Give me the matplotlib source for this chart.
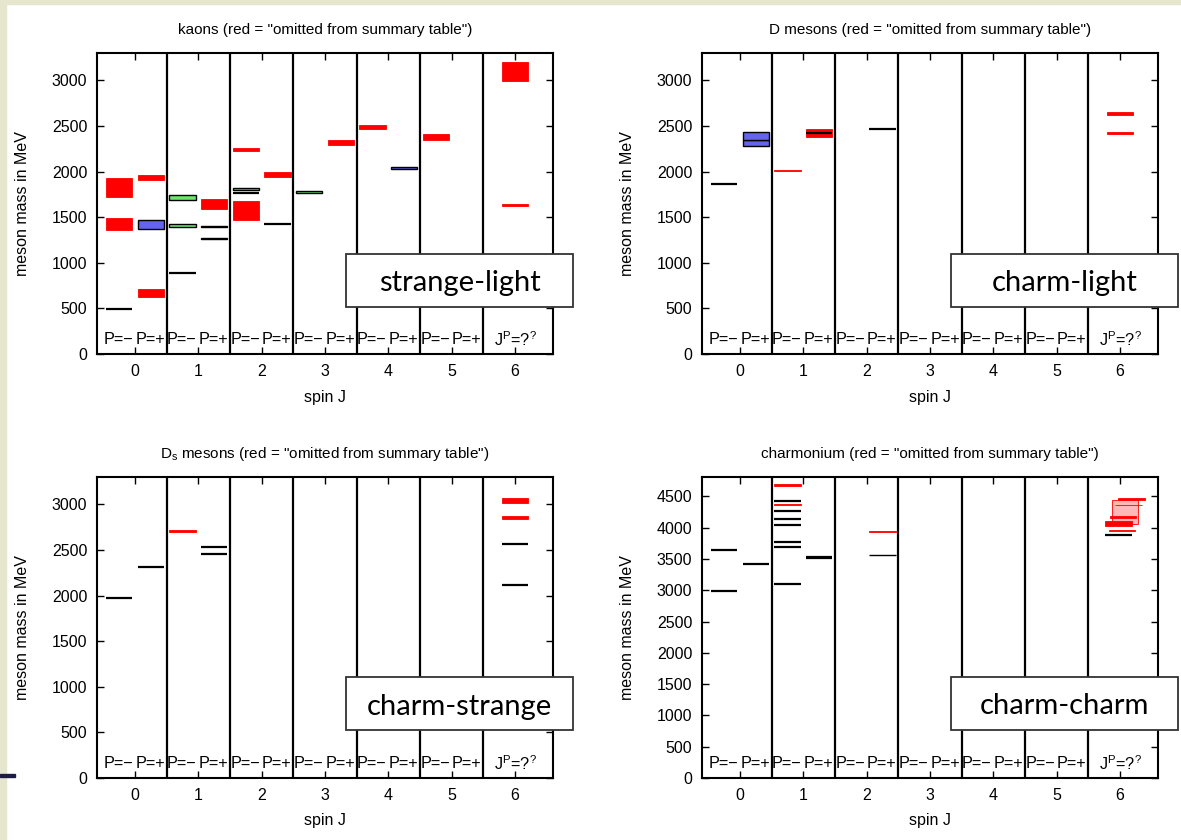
import matplotlib
matplotlib.use("Agg")
import matplotlib.pyplot as plt
from matplotlib.patches import Rectangle

plt.rcParams["font.family"] = ["Liberation Sans", "DejaVu Sans"]
plt.rcParams["mathtext.fontset"] = "custom"
plt.rcParams["mathtext.rm"] = "Liberation Sans"
plt.rcParams["mathtext.it"] = "Liberation Sans:italic"

# --- data: spin J, parity (-1, +1, 0 = unknown), mass range in MeV, colour code
KAON_J = [0, 0, 0, 0, 0, 0, 1, 1, 1, 1, 1, 1, 2, 2, 2, 2, 2, 2, 3, 3, 4, 4, 5, 6, 6]
KAON_P = [-1, -1, -1, 1, 1, 1, -1, -1, -1, 1, 1, 1, -1, -1, -1, -1, 1, 1, -1, 1, -1, 1, -1, 0, 0]
KAON_LO = [494, 1363, 1722, 623, 1370, 1912, 892, 1390, 1684, 1261, 1393, 1590,
           1472, 1770, 1795, 2223, 1428, 1937, 1768, 2293, 2462, 2030, 2351, 2992, 1618]
KAON_HI = [494, 1491, 1931, 711, 1473, 1967, 892, 1428, 1744, 1273, 1405, 1700,
           1680, 1770, 1825, 2260, 1428, 1995, 1782, 2351, 2513, 2055, 2407, 3201, 1643]
KAON_C = ["k", "r", "r", "r", "b", "r", "k", "g", "g", "b", "b", "r",
          "r", "k", "g", "r", "k", "r", "g", "r", "r", "b", "r", "r", "r"]

D_J = [0, 0, 0, 1, 1, 1, 2, 6, 6]
D_P = [-1, 1, 1, -1, 1, 1, 1, 0, 0]
D_LO = [1868, 2275, 2345, 2002, 2380, 2418, 2462, 2620, 2407]
D_HI = [1868, 2345, 2436, 2012, 2468, 2418, 2462, 2648, 2435]
D_C = ["k", "b", "b", "r", "r", "k", "k", "r", "r"]

DS_J = [0, 0, 1, 1, 1, 6, 6, 6, 6]
DS_P = [-1, 1, -1, 1, 1, 0, 0, 0, 0]
DS_LO = [1968, 2317, 2695, 2459, 2536, 2113, 2569, 2845, 3012]
DS_HI = [1968, 2317, 2722, 2459, 2536, 2113, 2569, 2872, 3073]
DS_C = ["k", "k", "r", "k", "k", "k", "k", "r", "r"]

CC_J = [0, 0, 0, 1, 1, 1, 1, 1, 1, 1, 1, 1, 1, 1, 2, 2, 6, 6, 6, 6, 6, 6, 6]
CC_P = [-1, -1, 1, -1, -1, -1, -1, -1, -1, -1, -1, -1, 1, 1, 1, 1, 0, 0, 0, 0, 0, 0, 0]
CC_LO = [2984, 3640, 3418, 3100, 3690, 3776, 4045, 4145, 4268, 4425, 4355, 4660,
         3511, 3527, 3556, 3928, 4445, 4358, 4060, 4150, 4020, 3940, 3880]
CC_HI = [2984, 3640, 3418, 3100, 3690, 3776, 4045, 4145, 4268, 4425, 4385, 4692,
         3511, 3527, 3570, 3955, 4472, 4366, 4447, 4190, 4100, 3962, 3880]
CC_C = ["k", "k", "k", "k", "k", "k", "k", "k", "k", "k", "r", "r",
        "k", "k", "b", "r", "r", "r", "p", "r", "r", "r", "k"]
# stagger of the unassigned (J^P = ??) charmonium-like states
CC_DX = [0] * 16 + [0.18, 0.13, 0.08, 0.05, -0.02, 0.03, -0.02]

TITLES = ['kaons (red = "omitted from summary table")',
          'D mesons (red = "omitted from summary table")',
          r'D$_\mathrm{s}$ mesons (red = "omitted from summary table")',
          'charmonium (red = "omitted from summary table")']
TAGS = ["strange-light", "charm-light", "charm-strange", "charm-charm"]
SPINS = [0, 1, 2, 3, 4, 5, 6]

W, H = 1181, 840
FILL = {"r": "#ff0000", "b": "#6464f0", "g": "#6ee66e", "p": (1, 0, 0, 0.28)}
EDGE = {"r": "#ff0000", "b": "black", "g": "black", "p": "#ff0000"}

fig = plt.figure(figsize=(W / 100, H / 100), dpi=100)
fig.patch.set_facecolor("white")


def px_axes(l, t, r, b):
    return fig.add_axes([l / W, 1 - b / H, (r - l) / W, (b - t) / H])


def draw_panel(ax, J, P, LO, HI, C, DX, ymax, yticks, title):
    for j, p, lo, hi, c, dx in zip(J, P, LO, HI, C, DX):
        x = j + 0.25 * p + dx
        if hi == lo:
            ax.hlines(lo, x - 0.21, x + 0.21, color="black" if c == "k" else FILL[c],
                      lw=1.6, zorder=3)
        else:
            ax.bar(x, hi - lo, bottom=lo, width=0.42, color=FILL[c],
                   edgecolor=EDGE[c], lw=1.0 if c in "bg" else 0.6, zorder=3)
    for s in SPINS[:-1]:
        ax.axvline(s + 0.5, color="black", lw=1.6, zorder=2)
    tr = ax.get_xaxis_transform()
    for s in SPINS[:-1]:
        ax.text(s - 0.26, 0.047, "P=\u2212", transform=tr, ha="center",
                va="center", fontsize=11.7)
        ax.text(s + 0.24, 0.047, "P=+", transform=tr, ha="center",
                va="center", fontsize=11.7)
    ax.text(SPINS[-1], 0.047, r"J$^\mathrm{P}$=?$^?$", transform=tr,
            ha="center", va="center", fontsize=11.7)
    ax.set_xlim(-0.6, 6.6)
    ax.set_ylim(0, ymax)
    ax.set_xticks(SPINS)
    ax.set_yticks(yticks)
    ax.tick_params(direction="in", length=5, width=1, top=True, right=True,
                   labelsize=11.5, pad=7)
    for sp in ax.spines.values():
        sp.set_linewidth(1.5)
    ax.set_xlabel("spin J", fontsize=11.5)
    ax.xaxis.set_label_coords(0.5, -43 / 301)
    ax.xaxis.label.set_va("center")
    ax.set_ylabel("meson mass in MeV", fontsize=11.5)
    ax.yaxis.set_label_coords(-74 / 456, 0.5)
    ax.yaxis.label.set_va("center")
    ax.set_title(title, fontsize=11, pad=13.5)


def tag_box(text, l, t, r, b):
    fig.add_artist(Rectangle((l / W, 1 - b / H), (r - l) / W, (b - t) / H,
                             transform=fig.transFigure, facecolor="white",
                             edgecolor="#333333", lw=1.3, zorder=10))
    fig.text((l + r) / 2 / W, 1 - ((t + b) / 2 + 3) / H, text, family="Lato",
             fontsize=21, ha="center", va="center", zorder=11)


ax1 = px_axes(97, 53, 553, 354)
draw_panel(ax1, KAON_J, KAON_P, KAON_LO, KAON_HI, KAON_C, [0] * len(KAON_J),
           3300, range(0, 3001, 500), TITLES[0])
ax2 = px_axes(702, 53, 1158, 354)
draw_panel(ax2, D_J, D_P, D_LO, D_HI, D_C, [0] * len(D_J),
           3300, range(0, 3001, 500), TITLES[1])
ax3 = px_axes(97, 477, 553, 778)
draw_panel(ax3, DS_J, DS_P, DS_LO, DS_HI, DS_C, [0] * len(DS_J),
           3300, range(0, 3001, 500), TITLES[2])
ax4 = px_axes(702, 477, 1158, 778)
draw_panel(ax4, CC_J, CC_P, CC_LO, CC_HI, CC_C, CC_DX,
           4810, range(0, 4501, 500), TITLES[3])

tag_box(TAGS[0], 346, 254, 573, 307)
tag_box(TAGS[1], 951, 254, 1178, 307)
tag_box(TAGS[2], 346, 677, 573, 730)
tag_box(TAGS[3], 951, 677, 1178, 730)

# slide frame strips
fig.add_artist(Rectangle((0, 1 - 4 / H), 1, 4 / H, transform=fig.transFigure,
                         color="#e6e6cf", zorder=12))
fig.add_artist(Rectangle((0, 0), 6 / W, 1, transform=fig.transFigure,
                         color="#e6e6cf", zorder=12))
fig.add_artist(Rectangle((0, 1 - 777 / H), 15 / W, 3 / H, transform=fig.transFigure,
                         color="#1c1c44", zorder=13))

fig.savefig("out.png", dpi=100)
